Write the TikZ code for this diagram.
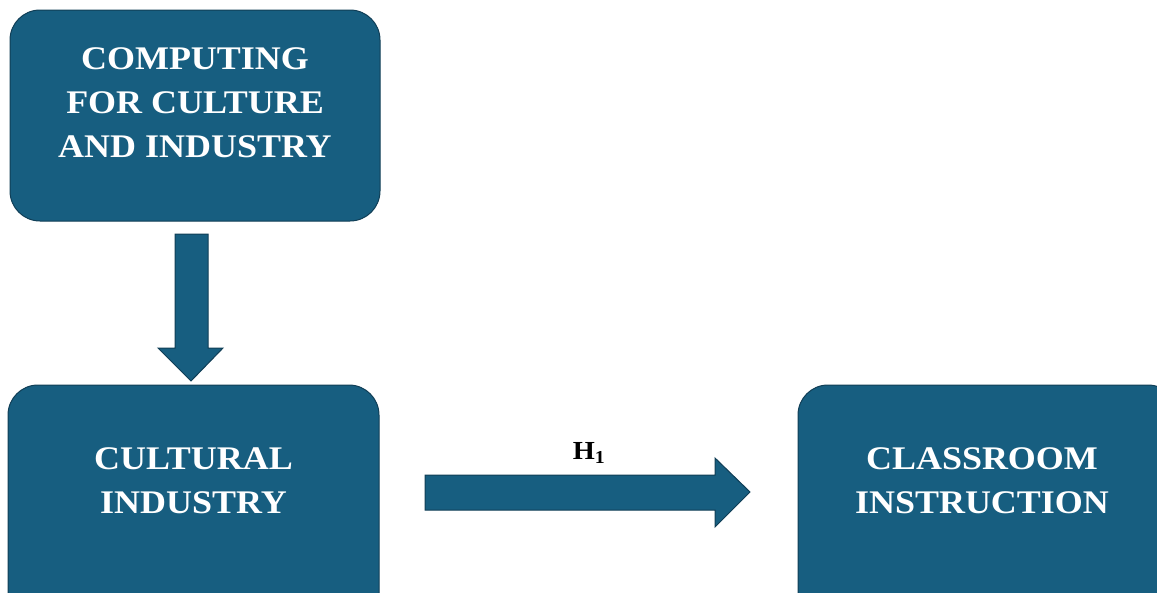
\documentclass[tikz,border=0pt]{standalone}
\usepackage{fontspec}
\setmainfont{Liberation Serif}
\newfontfamily\wideserif[FakeStretch=1.09]{Liberation Serif}
\definecolor{boxfill}{RGB}{23,94,128}
\definecolor{boxline}{RGB}{16,62,86}
\begin{document}
\begin{tikzpicture}[x=1pt,y=-1pt,
  box/.style={draw=boxline,line width=1pt,fill=boxfill,rounded corners=30pt,inner sep=0pt},
  label/.style={text=white,font=\wideserif\fontsize{33}{44}\selectfont\bfseries,align=center,inner sep=0pt},
  blockarrow/.style={draw=boxline,line width=1pt,fill=boxfill,line join=miter}]
\useasboundingbox (0,0) rectangle (1157,592);
\clip (0,0) rectangle (1157,592);
% boxes
\node[box,minimum width=370pt,minimum height=211pt] (top) at (195,115.5) {};
\node[box,minimum width=371pt,minimum height=260pt] (cult) at (193.5,515) {};
\node[box,minimum width=380pt,minimum height=260pt] (class) at (988,515) {};
% texts
\node[label] (toptext) at (195,103) {COMPUTING\\FOR CULTURE\\AND INDUSTRY};
\node[label] (culttext) at (193.5,481) {CULTURAL\\INDUSTRY};
\node[label] (classtext) at (982,481) {CLASSROOM\\INSTRUCTION};
% down arrow
\coordinate (dtip) at (191,381);
\draw[blockarrow] (175,234) -- (208,234) -- (208,348) -- (223,348) -- (dtip)
  -- (158,348) -- (175,348) -- cycle;
% right arrow
\coordinate (rtip) at (750,492);
\draw[blockarrow] (425,475) -- (715,475) -- (715,458) -- (rtip) -- (715,527)
  -- (715,510) -- (425,510) -- cycle;
\node[font=\wideserif\fontsize{26}{30}\selectfont\bfseries,inner sep=0pt] (h1) at (589,453) {H\textsubscript{1}};
\end{tikzpicture}
\end{document}
